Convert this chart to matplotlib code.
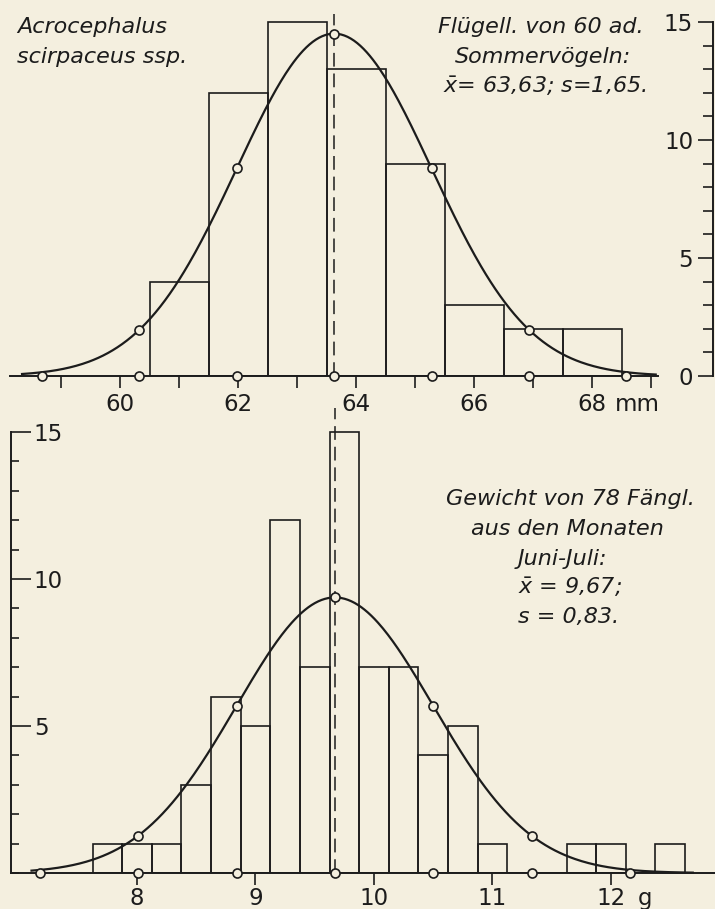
import numpy as np
import matplotlib
matplotlib.use("Agg")
import matplotlib.pyplot as plt
from matplotlib.ticker import MultipleLocator, FixedLocator

# Flügellänge (mm) von 60 ad. Sommervögeln
wing_bins = [61, 62, 63, 64, 65, 66, 67, 68]
wing_counts = [4, 12, 15, 13, 9, 3, 2, 2]
wing_mean, wing_sd, wing_n, wing_width = 63.63, 1.65, 60, 1.0

# Gewicht (g) von 78 Fänglingen, Juni-Juli
weight_bins = [7.75, 8.0, 8.25, 8.5, 8.75, 9.0, 9.25, 9.5, 9.75, 10.0,
               10.25, 10.5, 10.75, 11.0, 11.25, 11.5, 11.75, 12.0, 12.25, 12.5]
weight_counts = [1, 1, 1, 3, 6, 5, 12, 7, 15, 7, 7, 4, 5, 1, 0, 0, 1, 1, 0, 1]
weight_mean, weight_sd, weight_n, weight_width = 9.67, 0.83, 78, 0.25

BG = '#f4efdf'
INK = '#1c1c1c'
W, H = 715, 909

plt.rcParams['font.family'] = ['DejaVu Sans']
fig = plt.figure(figsize=(W / 100, H / 100), dpi=100, facecolor=BG)


def add_ax(left, top, right, bottom):
    # Achsen in Pixelkoordinaten (von oben gemessen)
    ax = fig.add_axes([left / W, 1 - bottom / H, (right - left) / W, (bottom - top) / H])
    ax.set_facecolor('none')
    return ax


def gauss(x, mean, sd, n, width):
    return n * width / (sd * np.sqrt(2 * np.pi)) * np.exp(-0.5 * ((x - mean) / sd) ** 2)


def draw_hist(ax, bins, counts, width, mean, sd, n, lo, hi, top):
    ax.bar(bins, counts, width=width, fill=False, edgecolor=INK, linewidth=1.2, zorder=2)
    xs = np.linspace(lo, hi, 400)
    ax.plot(xs, gauss(xs, mean, sd, n, width), color=INK, lw=1.6, zorder=3, clip_on=False)
    # Punkte bei x ± k*s (auf der Kurve und auf der Abszisse)
    xk = mean + sd * np.arange(-2, 3)
    ax.plot(xk, gauss(xk, mean, sd, n, width), 'o', ms=6.5, mfc=BG, mec=INK, mew=1.2,
            zorder=4, clip_on=False)
    xb = mean + sd * np.arange(-3, 4)
    ax.plot(xb, np.zeros_like(xb), 'o', ms=6.5, mfc=BG, mec=INK, mew=1.2,
            zorder=4, clip_on=False)
    ax.plot([mean, mean], [0, top], color=INK, lw=1.1, dashes=[9, 4.5], zorder=3)


# ---- oben: Flügellänge ----
ax1 = add_ax(0, 0, 713, 376)
ax1.set_xlim(57.966, 57.966 + 713 / 59)
ax1.set_ylim(0, 376 / 23.6)
draw_hist(ax1, wing_bins, wing_counts, wing_width, wing_mean, wing_sd, wing_n,
          58.34, 69.08, 15.35)

ax1.spines['top'].set_visible(False)
ax1.spines['right'].set_visible(False)
ax1.spines['left'].set_position(('axes', 1.0))
ax1.spines['left'].set_bounds(0, 15)
ax1.spines['bottom'].set_bounds(58.14, 69.12)
for s in ['left', 'bottom']:
    ax1.spines[s].set_linewidth(1.4)
    ax1.spines[s].set_color(INK)

ax1.yaxis.set_major_locator(FixedLocator([0, 5, 10, 15]))
ax1.yaxis.set_minor_locator(FixedLocator(range(0, 16)))
ax1.tick_params(axis='y', which='major', direction='out', length=10.8, width=1.2,
                pad=3.5, labelsize=16.5, colors=INK)
ax1.tick_params(axis='y', which='minor', direction='out', length=7.2, width=1.2, colors=INK)
ax1.xaxis.set_major_locator(FixedLocator([60, 62, 64, 66, 68]))
ax1.xaxis.set_minor_locator(FixedLocator([59, 61, 63, 65, 67, 69]))
ax1.tick_params(axis='x', which='both', direction='out', length=8.6, width=1.2,
                pad=3.5, labelsize=16.5, colors=INK)
ax1.annotate('mm', xy=(68, 0), xytext=(16.5, -12.1), textcoords='offset points',
             ha='left', va='top', fontsize=16.5, color=INK, annotation_clip=False)

# ---- unten: Gewicht ----
ax2 = add_ax(0, 390, 715, 873)
ax2.set_xlim(6.844, 6.844 + 715 / 118.5)
ax2.set_ylim(0, 483 / 29.4)
draw_hist(ax2, weight_bins, weight_counts, weight_width, weight_mean, weight_sd, weight_n,
          7.11, 12.69, 15.8)

ax2.spines['top'].set_visible(False)
ax2.spines['left'].set_visible(False)
ax2.spines['right'].set_position(('axes', 11 / 715))
ax2.spines['right'].set_bounds(0, 15)
ax2.spines['bottom'].set_bounds(6.937, 12.878)
for s in ['right', 'bottom']:
    ax2.spines[s].set_linewidth(1.4)
    ax2.spines[s].set_color(INK)

ax2.yaxis.tick_right()
ax2.yaxis.set_major_locator(FixedLocator([5, 10, 15]))
ax2.yaxis.set_minor_locator(FixedLocator(range(0, 16)))
ax2.tick_params(axis='y', which='major', direction='out', length=14.4, width=1.2,
                pad=2, labelsize=16.5, colors=INK)
ax2.tick_params(axis='y', which='minor', direction='out', length=5.8, width=1.2, colors=INK)
ax2.xaxis.set_major_locator(FixedLocator([8, 9, 10, 11, 12]))
ax2.tick_params(axis='x', which='major', direction='out', length=8.6, width=1.2,
                pad=1.5, labelsize=16.5, colors=INK)
ax2.annotate('g', xy=(12, 0), xytext=(19.5, -10.1), textcoords='offset points',
             ha='left', va='top', fontsize=16.5, color=INK, annotation_clip=False)

# ---- Beschriftungen ----
labels = [
    ("Acrocephalus", 17, 33, 'left'),
    ("scirpaceus ssp.", 17, 63, 'left'),
    ("Flügell. von 60 ad.", 541, 33, 'center'),
    ("Sommervögeln:", 543, 63, 'center'),
    (r"$\bar{x}$= 63,63; s=1,65.", 545, 93, 'center'),
    ("Gewicht von 78 Fängl.", 570, 505, 'center'),
    ("aus den Monaten", 567, 535, 'center'),
    ("Juni-Juli:", 518, 565, 'left'),
    (r"$\bar{x}$ = 9,67;", 518, 594, 'left'),
    ("s = 0,83.", 518, 623, 'left'),
]
for txt, x, y, ha in labels:
    fig.text(x / W, 1 - y / H, txt, ha=ha, va='baseline', fontsize=16,
             style='italic', color=INK)

fig.savefig('out.png', dpi=100, facecolor=BG)
